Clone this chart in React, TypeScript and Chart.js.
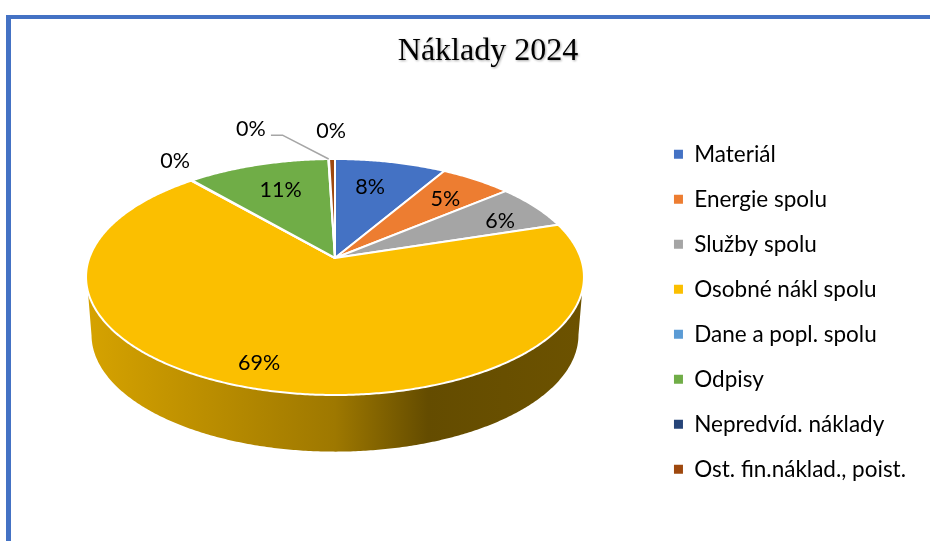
import React, { useEffect, useRef } from "react";
import { Chart, registerables } from "chart.js";

Chart.register(...registerables);

const categories = ["Materiál", "Energie spolu", "Služby spolu", "Osobné nákl spolu", "Dane a popl. spolu", "Odpisy", "Nepredvíd. náklady", "Ost. fin.náklad., poist."];
const values = [8.45, 5.45, 6.2, 68.5, 0.1, 10.8, 0.05, 0.45];
const colors = ["#4472c4", "#ed7d31", "#a5a5a5", "#fbbf00", "#5b9bd5", "#70ad47", "#264478", "#9e480e"];
const titleText = "Náklady 2024";

// label placement, as a share of the radius plus a small nudge
const labelRadius = [0.71, 0.73, 0.8, 0.826, 1.288, 0.7, 1.34, 1.343];
const labelNudgeX = [-6, 4, 3, -13, 19, 2, -76, 0];
const labelNudgeY = [0, 0, 5, 0, 0, 0, -2, 0];

const FONT = "Lato, Carlito, sans-serif";

// perspective projection of the pie's disc onto the page
const apexX = 335;
const apexY = 258;
const persp = 0.161;
const discA = 245.7;
const discB = 114.94;
const wallDrop = 58;
const wallScaleA = 0.978;
const wallScaleB = 0.99;

const project = (angle: number, r = 1, lower = false) => {
  const u = Math.cos(angle) * r;
  const v = Math.sin(angle) * r;
  const d = 1 - persp * v;
  return {
    x: apexX + (discA * (lower ? wallScaleA : 1) * u) / d,
    y: apexY + (lower ? wallDrop : 0) + (discB * (lower ? wallScaleB : 1) * v) / d,
  };
};

const shade = (hex: string, f: number) => {
  const n = parseInt(hex.slice(1), 16);
  const c = [(n >> 16) & 255, (n >> 8) & 255, n & 255].map((k) => Math.round(k * f));
  return `rgb(${c[0]},${c[1]},${c[2]})`;
};

function titleTextY(t: any) {
  return (t.top + t.bottom + 33 - 15) / 2;
}

const pie3d = {
  id: "pie3d",
  beforeDraw(chart: any) {
    const { ctx, titleBlock } = chart;
    if (!titleBlock) return;
    ctx.save();
    ctx.font = "32px 'Liberation Serif', serif";
    ctx.textAlign = "center";
    ctx.textBaseline = "middle";
    ctx.filter = "blur(1px)";
    ctx.fillStyle = "rgba(0,0,0,0.35)";
    ctx.fillText(titleText, (titleBlock.left + titleBlock.right) / 2 + 1, titleTextY(titleBlock) + 1);
    ctx.restore();
  },
  beforeDatasetsDraw(chart: any) {
    const { ctx } = chart;
    const arcs = chart.getDatasetMeta(0).data;
    const step = Math.PI / 360;
    ctx.save();
    // side wall, only where the rim faces the viewer
    arcs.forEach((el: any, i: number) => {
      const top: any[] = [];
      const bottom: any[] = [];
      for (let a = el.startAngle; a <= el.endAngle; a += step) {
        const s = Math.sin(a);
        if (s >= 0.27) top.push(project(a));
        if (s >= persp) bottom.push(project(a, 1, true));
      }
      if (top.length < 2 || bottom.length < 2) return;
      const g = ctx.createLinearGradient(90, 0, 580, 0);
      const base = colors[i];
      g.addColorStop(0, shade(base, 0.85));
      g.addColorStop(0.2, shade(base, 0.76));
      g.addColorStop(0.5, shade(base, 0.63));
      g.addColorStop(0.69, shade(base, 0.4));
      g.addColorStop(1, shade(base, 0.43));
      ctx.beginPath();
      top.forEach((p, k) => (k ? ctx.lineTo(p.x, p.y) : ctx.moveTo(p.x, p.y)));
      bottom.reverse().forEach((p) => ctx.lineTo(p.x, p.y));
      ctx.closePath();
      ctx.fillStyle = g;
      ctx.fill();
    });
    // top faces
    arcs.forEach((el: any, i: number) => {
      ctx.beginPath();
      ctx.moveTo(apexX, apexY);
      for (let a = el.startAngle; a < el.endAngle; a += step) {
        const p = project(a);
        ctx.lineTo(p.x, p.y);
      }
      const e = project(el.endAngle);
      ctx.lineTo(e.x, e.y);
      ctx.closePath();
      ctx.fillStyle = colors[i];
      ctx.fill();
      ctx.strokeStyle = "#ffffff";
      ctx.lineWidth = 2;
      ctx.lineJoin = "round";
      ctx.stroke();
    });
    // labels and the one leader line
    const total = values.reduce((s, v) => s + v, 0);
    ctx.font = `21.5px ${FONT}`;
    ctx.textAlign = "center";
    ctx.textBaseline = "middle";
    arcs.forEach((el: any, i: number) => {
      const mid = (el.startAngle + el.endAngle) / 2;
      const p = project(mid, labelRadius[i]);
      const x = p.x + labelNudgeX[i];
      const y = p.y + labelNudgeY[i];
      if (categories[i] === "Nepredvíd. náklady") {
        const rim = project(mid, 1);
        ctx.beginPath();
        ctx.moveTo(rim.x, rim.y);
        ctx.lineTo(x + 32, y + 6);
        ctx.lineTo(x + 20, y + 6);
        ctx.strokeStyle = "#a6a6a6";
        ctx.lineWidth = 1.5;
        ctx.stroke();
      }
      ctx.fillStyle = "#000000";
      ctx.fillText(`${Math.round((values[i] / total) * 100)}%`, x, y);
    });
    ctx.restore();
    return false;
  },
};

export default function App() {
  const ref = useRef<HTMLCanvasElement>(null);
  useEffect(() => {
    const chart = new Chart(ref.current as HTMLCanvasElement, {
      type: "pie",
      data: {
        labels: categories,
        datasets: [{ data: values, backgroundColor: colors, borderWidth: 0 }],
      },
      plugins: [pie3d],
      options: {
        animation: false,
        responsive: false,
        layout: { padding: { left: 60, right: 14, top: 0, bottom: 38 } },
        plugins: {
          tooltip: { enabled: false },
          title: {
            display: true,
            text: titleText,
            color: "#000000",
            font: { family: "'Liberation Serif', serif", size: 32, weight: "normal" },
            padding: { top: 32, bottom: 15 },
          },
          legend: {
            position: "right",
            align: "end",
            labels: {
              color: "#000000",
              font: { family: FONT, size: 22.5 },
              boxWidth: 9,
              boxHeight: 9,
              padding: 22.5,
            },
          },
        },
      } as any,
    });
    return () => chart.destroy();
  }, []);
  return (
    <div style={{ position: "fixed", left: 0, top: 0, width: 930, height: 541, background: "#fff", overflow: "hidden" }}>
      <canvas ref={ref} width={930} height={541} style={{ display: "block", position: "absolute", left: 0, top: 0 }} />
      <div style={{ position: "absolute", left: 6, top: 15, width: 924, height: 526, boxSizing: "border-box", borderLeft: "5px solid #4472c4", borderTop: "4px solid #4472c4" }} />
    </div>
  );
}
